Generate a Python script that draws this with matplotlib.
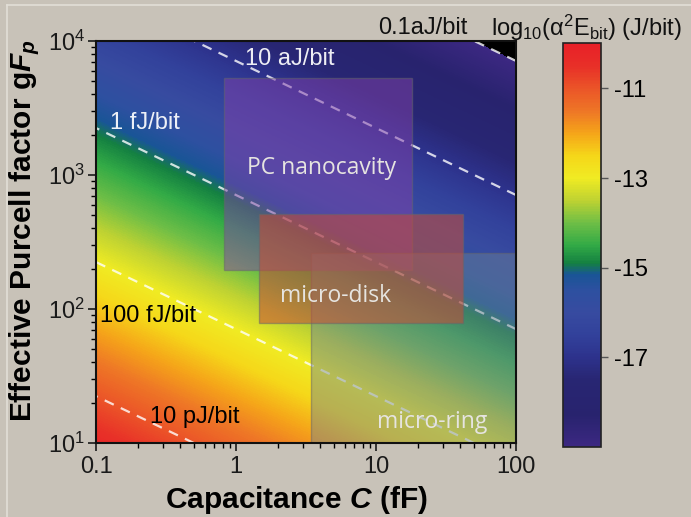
import numpy as np
import matplotlib
matplotlib.use("Agg")
import matplotlib.pyplot as plt
from matplotlib.colors import LinearSegmentedColormap, Normalize
from matplotlib.patches import Rectangle
from matplotlib.lines import Line2D

plt.rcParams['font.family'] = ['Liberation Sans', 'DejaVu Sans']
plt.rcParams['mathtext.fontset'] = 'custom'
plt.rcParams['mathtext.rm'] = 'Liberation Sans'
plt.rcParams['mathtext.it'] = 'Liberation Sans:italic'
plt.rcParams['mathtext.bf'] = 'Liberation Sans:bold'
plt.rcParams['mathtext.bfit'] = 'Liberation Sans:bold:italic'

# ---------------- data ----------------
c_range = [0.1, 100]          # capacitance (fF)
g_range = [10, 1e4]           # effective Purcell factor
energy_const = 5.0e-10        # E_bit = k / (C * gFp^2)   (J/bit)
contour_levels = [-19, -17, -15, -13, -11]   # log10(E)
contour_names = ["0.1aJ/bit", "10 aJ/bit", "1 fJ/bit", "100 fJ/bit", "10 pJ/bit"]
cbar_ticks = [-11, -13, -15, -17]
cbar_range = [-19, -10]

devices = ["PC nanocavity", "micro-ring", "micro-disk"]
dev_c = [(0.82, 18.0), (3.4, 100.0), (1.46, 42.0)]
dev_g = [(195, 5300), (10, 262), (78.5, 512)]
dev_color = [(130/255, 65/255, 170/255), (110/255, 130/255, 150/255), (200/255, 75/255, 55/255)]
dev_alpha = [0.5, 0.45, 0.56]
dev_label_pos = [(4.05, 1127), (25, 14.4), (5.1, 125)]

cmap_stops = [(-10.0, (232, 32, 40)), (-10.5, (232, 48, 40)), (-11.0, (235, 85, 40)),
              (-11.5, (238, 118, 38)), (-12.0, (245, 165, 25)), (-12.5, (245, 215, 25)),
              (-13.0, (240, 235, 35)), (-13.5, (190, 210, 50)), (-14.0, (110, 190, 70)),
              (-14.5, (50, 170, 70)), (-14.9, (20, 128, 65)), (-15.15, (25, 85, 150)),
              (-15.5, (45, 80, 160)), (-16.0, (55, 75, 160)), (-16.5, (50, 65, 155)),
              (-17.0, (45, 50, 140)), (-17.5, (40, 38, 115)), (-18.3, (40, 35, 110)),
              (-19.0, (60, 40, 130))]

# ---------------- colormap ----------------
lo, hi = cbar_range
cmap = LinearSegmentedColormap.from_list(
    "ebit", [((v - lo) / (hi - lo), tuple(np.array(c) / 255)) for v, c in sorted(cmap_stops)])
cmap.set_under('black')
norm = Normalize(vmin=lo, vmax=hi)

bg = '#c8c2b8'
fig = plt.figure(figsize=(6.91, 5.17), dpi=100, facecolor=bg)
ax = fig.add_axes([0.139, 0.143, 0.608, 0.778])

C = np.logspace(np.log10(c_range[0]), np.log10(c_range[1]), 700)
G = np.logspace(np.log10(g_range[0]), np.log10(g_range[1]), 700)
CC, GG = np.meshgrid(C, G)
Z = np.log10(energy_const / (CC * GG ** 2))

ax.pcolormesh(CC, GG, Z, cmap=cmap, norm=norm, shading='auto', rasterized=True, zorder=0)
ax.contour(CC, GG, Z, levels=contour_levels, colors='white', linewidths=1.6,
           linestyles=[(0, (4.5, 3.5))], alpha=0.8, zorder=1)

for name, cr, gr, col, a in zip(devices, dev_c, dev_g, dev_color, dev_alpha):
    ax.add_patch(Rectangle((cr[0], gr[0]), cr[1] - cr[0], gr[1] - gr[0],
                           facecolor=(*col, a), edgecolor=(0.4, 0.4, 0.42, 0.5),
                           linewidth=1.0, zorder=2))
for name, (x, y) in zip(devices, dev_label_pos):
    ax.text(x, y, name, ha='center', va='center', fontsize=16.5, color='#e6e4e0',
            family=['Open Sans', 'DejaVu Sans'], zorder=4)

ax.set_xscale('log')
ax.set_yscale('log')
ax.set_xlim(*c_range)
ax.set_ylim(*g_range)
ax.set_xticks([0.1, 1, 10, 100])
ax.set_xticklabels(['0.1', '1', '10', '100'])
ax.tick_params(which='major', direction='out', length=6, width=1.2, labelsize=17, colors='#1a1a1a')
ax.tick_params(which='minor', direction='out', length=3.5, width=1.0)
ax.tick_params(axis='x', pad=3)
ax.tick_params(axis='y', pad=2)
for s in ax.spines.values():
    s.set_linewidth(1.5)
    s.set_color('#111111')

# contour labels (axes-fraction positions)
lab_pos = {"10 aJ/bit": (0.355, 0.955, 'white'), "1 fJ/bit": (0.033, 0.795, 'white'),
           "100 fJ/bit": (0.01, 0.315, 'black'), "10 pJ/bit": (0.128, 0.065, 'black')}
for nm in contour_names:
    if nm in lab_pos:
        x, y, c = lab_pos[nm]
        ax.text(x, y, nm, transform=ax.transAxes, ha='left', va='center', fontsize=17, color=c,
                alpha=0.92 if c == 'white' else 1.0, zorder=5)
ax.text(0.671, 1.032, contour_names[0], transform=ax.transAxes, ha='left', va='center',
        fontsize=17, color='#111111')

fig.text(296/691, 1 - 500/517, r'Capacitance $\mathbfit{C}$ (fF)', fontsize=21.5, fontweight='bold',
         ha='center', va='center')
fig.text(25/691, 1 - 231/517, r'Effective Purcell factor g$\mathbfit{F}_\mathbfit{p}$', fontsize=21.5,
         fontweight='bold', ha='center', va='center', rotation=90)

# colorbar
cax = fig.add_axes([0.815, 0.135, 0.055, 0.781])
sm = matplotlib.cm.ScalarMappable(norm=norm, cmap=cmap)
cb = fig.colorbar(sm, cax=cax)
cb.set_ticks(cbar_ticks)
cb.set_ticklabels([str(t) for t in cbar_ticks])
cax.tick_params(length=5, width=1.0, color='#555555', labelsize=17, pad=4)
cb.outline.set_linewidth(1.2)
cb.outline.set_edgecolor('#222222')
fig.text(586/691, 0.946, r'log$_{10}$(α$^2$E$_{\rm bit}$) (J/bit)', ha='center', va='center',
         fontsize=17, color='#111111')

# light panel frame
fig.add_artist(Line2D([7/691, 1.0], [1 - 5/517, 1 - 5/517], color='#e2ded7', lw=1.2))
fig.add_artist(Line2D([7/691, 7/691], [0.0, 1 - 5/517], color='#e2ded7', lw=1.2))

fig.savefig('out.png', dpi=100, facecolor=bg)
